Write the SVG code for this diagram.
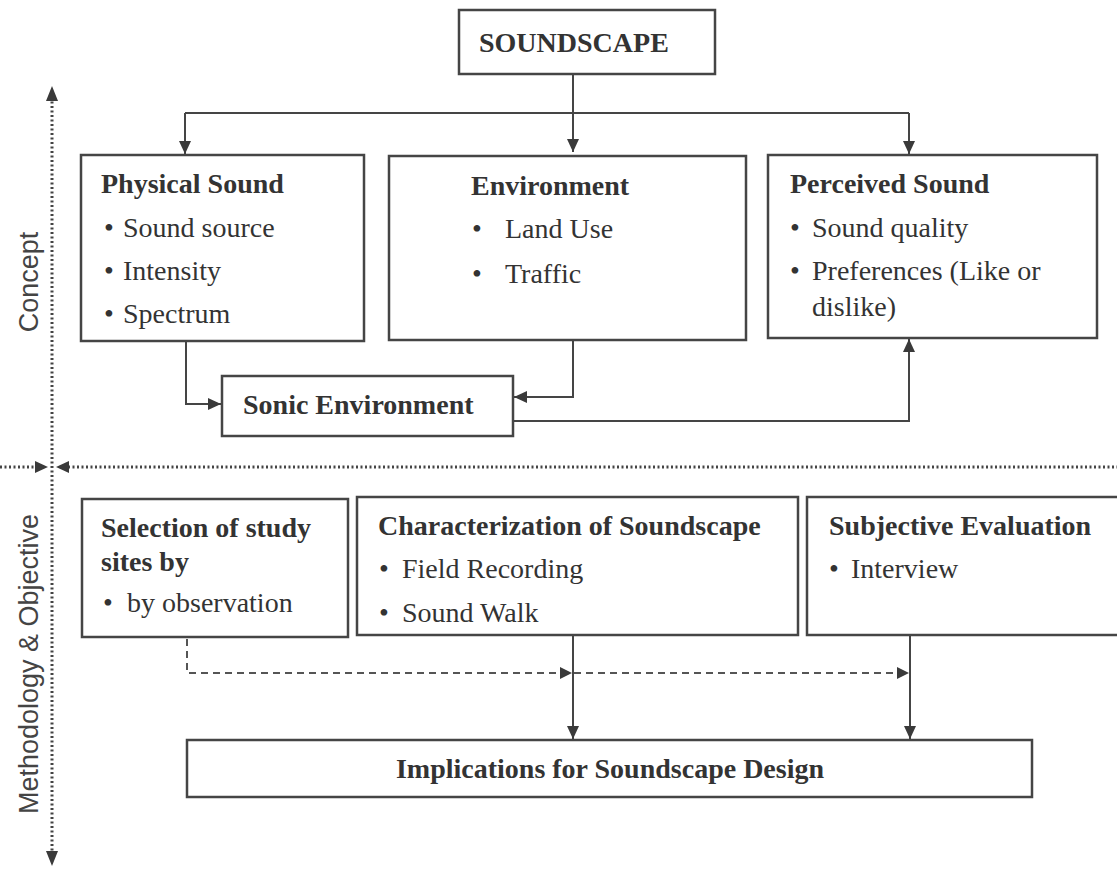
<svg xmlns="http://www.w3.org/2000/svg" width="1117" height="871" viewBox="0 0 1117 871">
  <defs>
    <marker id="arr" markerUnits="userSpaceOnUse" markerWidth="14" markerHeight="12" refX="13" refY="6" orient="auto">
      <path d="M0,0 L13,6 L0,12 z" fill="#3a3a3a"/>
    </marker>
    <marker id="arrs" markerUnits="userSpaceOnUse" markerWidth="13" markerHeight="12" refX="12" refY="6" orient="auto">
      <path d="M0,0 L12,6 L0,12 z" fill="#3a3a3a"/>
    </marker>
  </defs>
  <style>
    .box { fill: #ffffff; stroke: #454545; stroke-width: 2.5; }
    .t { font-family: "Liberation Serif", "Times New Roman", serif; font-size: 28px; fill: #333333; }
    .b { font-weight: bold; }
    .ax { font-family: "Liberation Sans", Arial, sans-serif; font-size: 27px; fill: #444444; }
    .ln { fill: none; stroke: #454545; stroke-width: 2; }
    .dash { fill: none; stroke: #555555; stroke-width: 2; stroke-dasharray: 7 5; }
    .dot { fill: none; stroke: #444444; stroke-width: 3; stroke-dasharray: 2 2.5; }
  </style>
  <rect width="1117" height="871" fill="#ffffff"/>

  <g id="connectors">
    <path class="ln" d="M573,74 V152" marker-end="url(#arr)"/>
    <path class="ln" d="M185,113 H909"/>
    <path class="ln" d="M185,113 V154" marker-end="url(#arr)"/>
    <path class="ln" d="M909,113 V154" marker-end="url(#arr)"/>
    <path class="ln" d="M186,341 V404 H221" marker-end="url(#arr)"/>
    <path class="ln" d="M573,341 V397 H514" marker-end="url(#arr)"/>
    <path class="ln" d="M513,421 H909 V339" marker-end="url(#arr)"/>
    <path class="ln" d="M573,636 V739" marker-end="url(#arr)"/>
    <path class="ln" d="M910,636 V739" marker-end="url(#arr)"/>
    <path class="dash" d="M187,639 V673 H572" marker-end="url(#arrs)"/>
    <path class="dash" d="M574,673 H909" marker-end="url(#arrs)"/>
  </g>

  <g id="axes">
    <path class="dot" d="M52,855 V100"/>
    <path d="M52,86 L46,101 L58,101 z" fill="#3a3a3a"/>
    <path d="M52,866 L46,851 L58,851 z" fill="#3a3a3a"/>
    <path class="dot" d="M0,467 H36"/>
    <path d="M48,467 L35,461 L35,473 z" fill="#3a3a3a"/>
    <path class="dot" d="M68,467 H1117"/>
    <path d="M56,467 L69,461 L69,473 z" fill="#3a3a3a"/>
    <text class="ax" transform="translate(38,282) rotate(-90)" text-anchor="middle">Concept</text>
    <text class="ax" transform="translate(38,664) rotate(-90)" text-anchor="middle">Methodology &amp; Objective</text>
  </g>

  <g id="soundscape">
    <rect class="box" x="459" y="10" width="256" height="64"/>
    <text class="t b" x="479" y="52">SOUNDSCAPE</text>
  </g>

  <g id="physical-sound">
    <rect class="box" x="81" y="155" width="283" height="186"/>
    <text class="t b" x="101" y="193">Physical Sound</text>
    <text class="t" y="237"><tspan x="104">•</tspan><tspan x="123">Sound source</tspan></text>
    <text class="t" y="280"><tspan x="104">•</tspan><tspan x="123">Intensity</tspan></text>
    <text class="t" y="323"><tspan x="104">•</tspan><tspan x="123">Spectrum</tspan></text>
  </g>

  <g id="environment">
    <rect class="box" x="389" y="156" width="357" height="184"/>
    <text class="t b" x="471" y="195">Environment</text>
    <text class="t" y="238"><tspan x="472">•</tspan><tspan x="505">Land Use</tspan></text>
    <text class="t" y="283"><tspan x="472">•</tspan><tspan x="505">Traffic</tspan></text>
  </g>

  <g id="perceived-sound">
    <rect class="box" x="768" y="155" width="329" height="183"/>
    <text class="t b" x="790" y="193">Perceived Sound</text>
    <text class="t" y="237"><tspan x="790">•</tspan><tspan x="812">Sound quality</tspan></text>
    <text class="t" y="280"><tspan x="790">•</tspan><tspan x="812">Preferences (Like or</tspan></text>
    <text class="t" x="812" y="316">dislike)</text>
  </g>

  <g id="sonic-environment">
    <rect class="box" x="222" y="376" width="291" height="60"/>
    <text class="t b" x="243" y="414">Sonic Environment</text>
  </g>

  <g id="selection">
    <rect class="box" x="82" y="499" width="266" height="138"/>
    <text class="t b" x="101" y="537">Selection of study</text>
    <text class="t b" x="101" y="571">sites by</text>
    <text class="t" y="612"><tspan x="103">•</tspan><tspan x="127">by observation</tspan></text>
  </g>

  <g id="characterization">
    <rect class="box" x="357" y="497" width="441" height="138"/>
    <text class="t b" x="378" y="535">Characterization of Soundscape</text>
    <text class="t" y="578"><tspan x="379">•</tspan><tspan x="402">Field Recording</tspan></text>
    <text class="t" y="622"><tspan x="379">•</tspan><tspan x="402">Sound Walk</tspan></text>
  </g>

  <g id="subjective">
    <rect class="box" x="807" y="497" width="330" height="138"/>
    <text class="t b" x="829" y="535">Subjective Evaluation</text>
    <text class="t" y="578"><tspan x="829">•</tspan><tspan x="851">Interview</tspan></text>
  </g>

  <g id="implications">
    <rect class="box" x="187" y="740" width="845" height="57"/>
    <text class="t b" x="610" y="778" text-anchor="middle">Implications for Soundscape Design</text>
  </g>
</svg>
